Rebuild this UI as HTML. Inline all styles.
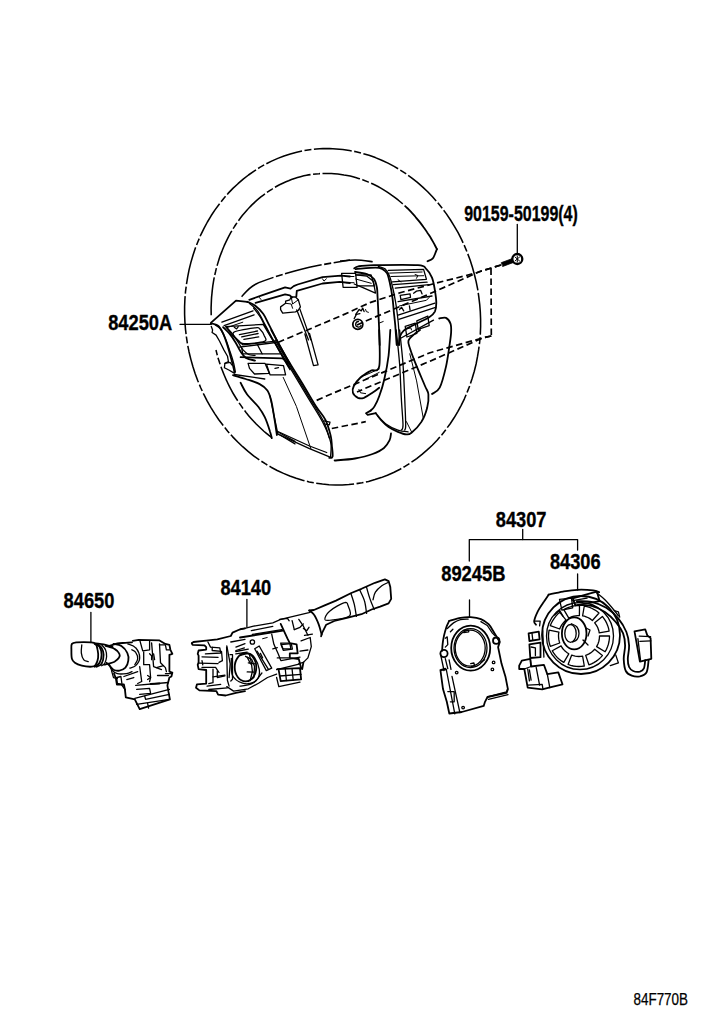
<!DOCTYPE html>
<html><head><meta charset="utf-8"><style>
html,body{margin:0;padding:0;background:#fff;width:707px;height:1024px;overflow:hidden}
svg{display:block}
.lb{font-family:"Liberation Sans",sans-serif;font-weight:bold;font-size:21.5px;fill:#000;stroke:#000;stroke-width:0.35}
.cd{font-family:"Liberation Sans",sans-serif;font-size:16px;fill:#000;stroke:#000;stroke-width:0.25}
path,line,polyline,circle,ellipse,rect{fill:none;stroke:#000;stroke-linecap:round;stroke-linejoin:round}
.ph{stroke-width:1.55;stroke-dasharray:38 2.5 7 2.5;stroke-linecap:butt}
.ds{stroke-width:1.7;stroke-dasharray:6.5 3.5;stroke-linecap:butt}
.t{stroke-width:1}
.m{stroke-width:1.3}
.k{stroke-width:1.8}
.f{fill:#000}
.w{fill:#fff}
</style></head><body>
<svg width="707" height="1024" viewBox="0 0 707 1024">
<path class="ph" d="M478.8,296.8 L479.7,304.3 L480.3,311.8 L480.6,319.4 L480.6,326.9 L480.3,334.4 L479.7,341.9 L478.7,349.4 L477.5,356.7 L476.1,364.0 L474.3,371.2 L472.2,378.3 L469.9,385.3 L467.2,392.1 L464.4,398.8 L461.2,405.3 L457.8,411.6 L454.1,417.8 L450.2,423.7 L446.0,429.4 L441.7,434.9 L437.1,440.2 L432.3,445.2 L427.2,449.9 L422.0,454.4 L416.7,458.6 L411.1,462.5 L405.4,466.2 L399.6,469.5 L393.6,472.5 L387.4,475.2 L381.2,477.6 L374.9,479.6 L368.5,481.4 L362.0,482.8 L355.5,483.8 L348.9,484.6 L342.3,485.0 L335.6,485.0 L329.0,484.7 L322.4,484.1 L315.8,483.1 L309.2,481.9 L302.6,480.2 L296.2,478.3 L289.8,476.0 L283.5,473.4 L277.2,470.5 L271.1,467.2 L265.2,463.7 L259.3,459.9 L253.6,455.8 L248.1,451.4 L242.7,446.7 L237.5,441.8 L232.5,436.6 L227.7,431.2 L223.2,425.5 L218.8,419.7 L214.7,413.6 L210.8,407.3 L207.1,400.9 L203.7,394.2 L200.6,387.5 L197.7,380.5 L195.1,373.5 L192.8,366.3 L190.8,359.1 L189.0,351.7 L187.5,344.3 L186.4,336.8 L185.5,329.3 L184.9,321.8 L184.6,314.2 L184.6,306.7 L184.9,299.2 L185.5,291.7 L186.5,284.2 L187.7,276.9 L189.1,269.6 L190.9,262.4 L193.0,255.3 L195.3,248.3 L198.0,241.5 L200.8,234.8 L204.0,228.3 L207.4,222.0 L211.1,215.8 L215.0,209.9 L219.2,204.2 L223.5,198.7 L228.1,193.4 L232.9,188.4 L238.0,183.7 L243.2,179.2 L248.5,175.0 L254.1,171.1 L259.8,167.4 L265.6,164.1 L271.6,161.1 L277.8,158.4 L284.0,156.0 L290.3,154.0 L296.7,152.2 L303.2,150.8 L309.7,149.8 L316.3,149.0 L322.9,148.6 L329.6,148.6 L336.2,148.9 L342.8,149.5 L349.4,150.5 L356.0,151.7 L362.6,153.4 L369.0,155.3 L375.4,157.6 L381.7,160.2 L388.0,163.1 L394.1,166.4 L400.0,169.9 L405.9,173.7 L411.6,177.8 L417.1,182.2 L422.5,186.9 L427.7,191.8 L432.7,197.0 L437.5,202.4 L442.0,208.1 L446.4,213.9 L450.5,220.0 L454.4,226.3 L458.1,232.7 L461.5,239.4 L464.6,246.1 L467.5,253.1 L470.1,260.1 L472.4,267.3 L474.4,274.5 L476.2,281.9 L477.7,289.3 L478.8,296.8Z"/>
<path class="ph" d="M211.2,315.2 C211.2,314.0 211.1,310.2 211.1,307.8 C211.2,305.3 211.3,302.9 211.4,300.4 C211.5,298.0 211.7,295.5 212.0,293.1 C212.2,290.6 212.5,288.2 212.8,285.8 C213.2,283.4 213.6,281.0 214.0,278.6 C214.5,276.2 215.0,273.9 215.6,271.5 C216.1,269.2 216.7,266.9 217.4,264.6 C218.1,262.3 218.8,260.0 219.5,257.7 C220.3,255.5 221.1,253.3 222.0,251.1 C222.8,248.9 223.8,246.7 224.7,244.6 C225.7,242.4 226.7,240.3 227.7,238.3 C228.8,236.2 229.9,234.2 231.0,232.2 C232.2,230.2 233.4,228.2 234.6,226.3 C235.9,224.4 237.1,222.5 238.5,220.7 C239.8,218.9 241.1,217.1 242.5,215.3 C243.9,213.6 245.4,211.9 246.9,210.2 C248.3,208.6 249.9,207.0 251.4,205.4 C253.0,203.9 254.6,202.4 256.2,200.9 C257.8,199.5 259.5,198.1 261.2,196.7 C262.9,195.4 264.6,194.1 266.3,192.8 C268.1,191.6 269.9,190.4 271.7,189.3 C273.5,188.1 275.3,187.1 277.2,186.0 C279.0,185.0 280.9,184.1 282.8,183.2 C284.7,182.3 286.7,181.4 288.6,180.7 C290.6,179.9 292.5,179.2 294.5,178.5 C296.5,177.9 298.5,177.3 300.5,176.7 C302.5,176.2 304.6,175.7 306.6,175.3 C308.6,174.9 310.7,174.6 312.8,174.3 C314.8,174.0 316.9,173.8 319.0,173.7 C321.0,173.5 323.1,173.4 325.2,173.4 C327.3,173.4 329.4,173.4 331.5,173.5 C333.6,173.6 335.7,173.8 337.8,174.0 C339.8,174.2 341.9,174.5 344.0,174.9 C346.1,175.2 348.2,175.6 350.2,176.1 C352.3,176.6 354.4,177.1 356.4,177.7 C358.5,178.4 360.5,179.0 362.6,179.7 C364.6,180.5 366.6,181.3 368.6,182.1 C370.6,183.0 372.6,183.9 374.5,184.8 C376.5,185.8 378.5,186.8 380.4,187.9 C382.3,189.0 384.2,190.1 386.1,191.3 C388.0,192.5 389.8,193.8 391.6,195.1 C393.5,196.4 395.3,197.7 397.1,199.2 C398.8,200.6 400.6,202.0 402.3,203.5 C404.0,205.1 406.5,207.5 407.4,208.2"/>
<path class="k" d="M407.4,208.2 C408.1,209.0 410.3,211.1 411.7,212.7 C413.1,214.2 414.5,215.7 415.8,217.3 C417.2,218.9 418.5,220.5 419.8,222.1 C421.1,223.8 422.4,225.5 423.6,227.2 C424.9,228.9 426.1,230.6 427.2,232.4 C428.4,234.2 429.5,236.0 430.7,237.8 C431.8,239.6 432.8,241.5 433.9,243.4 C434.9,245.3 436.4,248.1 436.9,249.1"/>
<path class="k" d="M436.9,249.1 C436.6,249.8 435.9,251.9 435.2,253.5 C434.5,255.1 433.9,257.3 432.6,258.6 C431.3,259.9 428.4,260.8 427.5,261.2"/>
<path class="ph" d="M271.4,437.3 C270.8,436.8 268.8,435.3 267.5,434.2 C266.2,433.1 264.9,432.1 263.6,431.0 C262.4,429.8 261.1,428.7 259.9,427.5 C258.7,426.4 257.4,425.2 256.2,424.0 C255.1,422.8 253.9,421.5 252.7,420.2 C251.6,419.0 250.4,417.7 249.3,416.4 C248.2,415.1 247.1,413.7 246.0,412.4 C244.9,411.0 243.9,409.6 242.8,408.2 C241.8,406.8 240.8,405.4 239.8,403.9 C238.8,402.5 237.8,401.0 236.9,399.5 C235.9,398.0 235.0,396.5 234.1,395.0 C233.2,393.5 232.3,391.9 231.5,390.3 C230.6,388.8 229.8,387.2 229.0,385.6 C228.2,384.0 227.4,382.4 226.7,380.8 C225.9,379.1 225.2,377.5 224.5,375.8 C223.8,374.2 223.1,372.5 222.5,370.8 C221.8,369.1 221.2,367.4 220.6,365.7 C220.0,364.0 219.4,362.3 218.9,360.5 C218.3,358.8 217.8,357.1 217.3,355.3 C216.9,353.5 216.2,350.9 216.0,350.0"/>
<path class="k" d="M334.6,460.5 C338.0,460.2 348.7,459.6 355.0,458.5 C361.3,457.4 367.8,455.8 372.6,454.0 C377.4,452.2 381.2,450.3 384.0,448.0 C386.8,445.7 388.3,442.8 389.5,440.4 C390.7,438.0 390.8,434.6 391.0,433.5"/>
<path class="ds" d="M331.8,428.5 L365.8,421.7"/>
<path class="k" d="M439.2,318.5 C440.3,318.4 444.1,317.0 446.0,317.9 C447.9,318.8 449.6,321.2 450.5,323.6 C451.4,326.1 451.3,328.8 451.1,332.6 C450.9,336.4 450.2,340.5 449.4,346.2 C448.5,351.9 447.6,359.7 446.0,366.6 C444.4,373.5 442.0,383.1 439.7,387.7 C437.4,392.3 433.3,392.9 432.0,394.0"/>
<path class="k" d="M240.6,382.8 C241.7,384.7 244.0,390.2 247.0,394.3 C250.0,398.3 255.5,403.2 258.5,407.0 C261.4,410.8 262.9,413.2 264.8,417.2 C266.7,421.2 268.8,427.7 269.9,431.2 C271.1,434.7 271.5,437.0 271.8,438.2"/>
<path class="k" d="M233.0,375.2 C235.1,375.8 241.3,377.5 245.7,379.0 C250.2,380.5 256.1,382.2 259.7,384.1 C263.3,386.0 265.5,387.7 267.4,390.5 C269.3,393.2 270.0,396.0 271.2,400.6 C272.4,405.3 273.4,412.7 274.4,418.5 C275.3,424.2 276.5,432.3 276.9,435.0"/>
<path class="m" d="M278.8,432.5 L295.0,441.4"/>
<path class="m" d="M280.1,435.0 L295.0,443.9"/>
<path class="m" d="M234.3,374.5 L264.8,379.0"/>
<path class="k" d="M211.1,322.7 L236.0,300.7 L247.3,301.8"/>
<path class="k" d="M247.3,301.8 C248.7,302.4 252.6,303.8 255.3,305.7 C257.9,307.7 260.9,310.6 263.2,313.7 C265.4,316.8 266.4,319.6 268.8,324.4 C271.3,329.2 274.4,335.9 277.9,342.5 C281.4,349.1 288.0,360.4 290.0,364.0"/>
<path class="m" d="M249.6,303.5 C250.9,304.7 255.1,307.5 257.5,310.8 C260.0,314.1 261.7,318.4 264.3,323.3 C267.0,328.2 270.2,334.4 273.4,340.3 C276.6,346.1 280.8,353.7 283.6,358.4 C286.3,363.1 288.9,366.9 290.0,368.6"/>
<path class="m" d="M253.6,308.0 C254.7,309.5 258.2,313.6 260.4,317.1 C262.5,320.6 264.1,324.5 266.6,328.9 C269.0,333.4 272.0,338.4 275.1,343.7 C278.1,348.9 282.2,356.3 284.7,360.6 C287.2,365.0 289.1,368.2 290.0,369.7"/>
<path class="m" d="M221.9,322.2 L253.0,310.8"/>
<path class="m" d="M224.1,325.6 L254.1,314.8"/>
<path class="t" d="M225.8,328.0 L242.8,322.2"/>
<path class="m" d="M225.8,326.7 L263.2,324.4 L273.4,341.4 L242.8,344.8 L232.6,335.7Z"/>
<path class="m" d="M233.8,332.3 C236.6,330.3 250.9,328.4 255.3,327.8 C259.6,327.2 258.3,327.6 259.8,328.9 C261.3,330.3 263.6,333.7 264.3,335.7 C265.1,337.8 267.7,340.1 264.3,341.4 C260.9,342.7 248.3,343.8 243.9,343.7 C239.6,343.5 240.0,342.1 238.3,340.3 C236.6,338.4 230.9,334.4 233.8,332.3Z"/>
<path class="m" d="M239.4,334.6 L257.5,331.0"/>
<path class="m" d="M241.7,336.9 L258.1,333.5"/>
<path class="m" d="M243.9,339.4 L258.7,336.9"/>
<path class="m" d="M234.3,327.2 L236.6,328.9 L238.3,326.7"/>
<path class="m" d="M239.4,347.1 L275.6,342.5"/>
<path class="m" d="M241.7,348.2 L242.8,353.8 L280.2,353.8"/>
<path class="k" d="M240.6,357.2 L282.4,358.4 L288.1,362.9"/>
<path class="m" d="M257.5,344.8 L262.1,353.8"/>
<path class="m" d="M248.1,363.4 L265.1,363.4 L269.3,373.3 L254.5,374.0 L249.5,368.4Z"/>
<path class="m" d="M266.5,364.1 L283.5,365.6 L285.6,374.8 L270.0,374.8Z"/>
<path class="m" d="M275.0,368.4 L278.5,367.7"/>
<path class="k" d="M210.8,323.3 C212.0,323.7 215.8,323.8 217.8,325.5 C219.9,327.2 221.5,330.0 223.1,333.4 C224.7,336.8 226.2,341.6 227.5,345.7 C228.8,349.8 230.0,354.2 231.0,358.0 C232.1,361.8 233.1,366.1 233.7,368.5 C234.3,371.0 234.4,372.2 234.5,372.9"/>
<path class="m" d="M215.2,325.0 C216.1,325.7 218.7,326.6 220.5,329.0 C222.2,331.4 224.1,335.7 225.8,339.5 C227.4,343.4 228.8,347.9 230.1,351.8 C231.5,355.8 232.8,359.9 233.7,363.3 C234.5,366.6 235.1,370.6 235.4,372.1"/>
<path class="m" d="M211.3,326.4 L212.6,329.9 L212.1,332.5 L216.1,335.1 L219.6,341.3 L224.0,350.1 L227.5,356.2 L228.4,361.5 L224.9,363.3 L224.4,367.7 L229.3,370.3 L233.7,372.9"/>
<path class="k" d="M223.1,327.2 C224.1,328.3 227.2,330.9 229.3,333.4 C231.3,335.9 233.5,339.1 235.4,342.2 C237.3,345.3 238.9,349.2 240.7,351.8 C242.5,354.5 243.6,356.5 246.0,358.0 C248.4,359.5 253.5,360.2 255.0,360.6"/>
<path class="m" d="M225.8,326.4 C226.9,327.7 230.7,331.6 232.8,334.3 C234.8,336.9 236.3,339.5 238.1,342.2 C239.8,344.8 241.6,348.0 243.3,350.1 C245.1,352.1 246.7,353.6 248.6,354.5 C250.6,355.4 253.9,355.2 255.0,355.4"/>
<path class="m" d="M224.9,363.3 L230.1,362.4 L231.9,365.0"/>
<path class="k" d="M271.3,330.0 C273.7,334.4 280.3,346.9 285.8,356.4 C291.3,365.8 299.2,378.3 304.3,386.7 C309.3,395.0 312.6,400.9 316.1,406.4 C319.6,411.9 322.9,414.8 325.3,419.6 C327.8,424.4 329.5,431.0 330.6,435.4 C331.7,439.8 331.6,442.4 331.9,446.0 C332.3,449.5 333.0,454.5 332.6,456.5 C332.2,458.5 329.8,457.6 329.3,457.8"/>
<path class="m" d="M274.0,340.5 C276.1,344.3 281.6,353.7 287.1,362.9 C292.6,372.2 301.0,386.0 306.9,395.9 C312.8,405.8 318.8,414.6 322.7,422.2 C326.7,429.9 329.3,436.3 330.6,442.0 C331.9,447.7 330.6,454.1 330.6,456.5"/>
<path class="m" d="M275.3,340.5 C277.5,344.3 283.0,353.7 288.4,362.9 C293.9,372.2 302.3,386.0 308.2,395.9 C314.1,405.8 320.5,415.2 324.0,422.2 C327.5,429.3 328.4,435.4 329.3,438.1"/>
<path class="m" d="M277.9,434.1 L309.5,448.6 L325.3,455.2 L331.9,457.8"/>
<path class="m" d="M277.9,431.5 L309.5,446.0 L326.7,452.5"/>
<path class="t" d="M283.2,377.4 L296.4,406.4 L310.8,448.6"/>
<path class="m" d="M270.0,395.9 L274.0,415.7 L277.9,434.1"/>
<path class="m" d="M324.0,420.9 L330.0,422.2 L329.3,424.9 L325.3,424.2"/>
<path class="ph" d="M241.6,296.7 C243.9,294.6 248.0,288.1 255.6,284.2 C263.1,280.3 276.3,276.5 286.7,273.3 C297.1,270.2 307.2,267.8 317.8,265.6 C328.4,263.4 344.6,261.0 350.0,260.1"/>
<path class="ph" d="M340.0,260.9 C342.6,260.8 350.1,260.0 355.6,260.1 C361.0,260.2 369.8,261.4 372.7,261.7"/>
<path class="k" d="M249.3,299.8 L261.8,295.4 L285.1,287.3 L290.6,288.6 L293.7,286.1 L297.6,284.5 L322.5,277.2 L341.1,275.7 L350.0,276.5"/>
<path class="k" d="M255.6,302.9 L285.1,294.3 L289.8,295.4 L292.1,297.5"/>
<path class="k" d="M296.3,296.7 L296.8,290.8 L322.5,283.5 L339.6,281.9 L350.0,283.0"/>
<path class="m" d="M280.6,306.9 L285.6,303.3 L285.6,301.2 L289.8,299.8 L291.2,297.0 L295.5,297.0 L298.3,299.8 L300.4,306.9 L298.3,310.4 L295.5,311.8 L282.7,313.2 L280.6,309.7Z"/>
<path class="t" d="M291.2,297.0 L292.6,304.0 L298.3,299.8"/>
<path class="t" d="M285.6,303.3 L291.2,304.0 L292.6,308.3"/>
<path class="m" d="M296.8,309.9 L308.5,339.9"/>
<path class="m" d="M299.9,309.1 L310.8,339.9"/>
<path class="t" d="M322.5,278.8 L324.0,281.1 L326.4,278.8"/>
<path class="t" d="M259.4,297.5 L261.0,299.5"/>
<path class="m" d="M304.9,334.0 L313.5,365.6 L318.1,364.9 L309.5,333.3"/>
<path class="m" d="M341.6,273.3 L355.6,273.3 L357.1,287.3 L343.1,287.3Z"/>
<path class="t" d="M346.2,276.5 L354.0,276.5"/>
<path class="t" d="M346.2,282.7 L354.0,282.7"/>
<path class="m" d="M355.6,274.9 L371.1,274.9 L374.2,285.8 L357.1,285.8"/>
<path class="k" d="M354.2,268.4 C355.0,268.1 355.2,266.9 358.5,266.3 C361.8,265.8 364.1,265.4 374.0,265.2 C383.9,265.0 409.2,264.5 417.9,265.2 C426.6,265.8 424.0,267.1 426.4,269.1 C428.7,271.2 430.6,274.1 432.0,277.6 C433.5,281.2 434.2,286.1 434.9,290.4 C435.6,294.6 436.3,299.6 436.3,303.1 C436.3,306.6 436.0,309.2 434.9,311.6 C433.7,313.9 433.0,314.9 429.2,317.2 C425.4,319.6 416.5,323.5 412.2,325.7 C408.0,328.0 405.8,328.8 403.7,330.7 C401.7,332.6 400.6,334.7 399.8,337.0 C399.0,339.4 399.0,343.6 398.8,345.0"/>
<path class="k" d="M355.7,269.1 C359.0,268.9 371.0,267.7 375.5,267.7 C379.9,267.7 380.6,268.2 382.5,269.1 C384.5,270.1 385.8,271.0 387.1,273.4 C388.3,275.7 389.0,279.3 389.9,283.3 C390.8,287.3 391.8,292.7 392.4,297.4 C393.1,302.1 393.4,306.9 393.8,311.6 C394.3,316.3 394.8,320.2 395.3,325.7 C395.7,331.3 396.4,341.8 396.7,345.0"/>
<path class="m" d="M378.3,266.3 C379.5,266.8 383.5,267.5 385.4,269.1 C387.2,270.8 388.4,273.2 389.6,276.2 C390.8,279.3 391.7,283.3 392.7,287.5 C393.7,291.8 394.7,297.0 395.5,301.7 C396.3,306.4 397.0,311.1 397.5,315.8 C398.1,320.5 398.5,325.1 398.8,330.0 C399.1,334.8 399.4,342.5 399.5,345.0"/>
<path class="k" d="M355.0,272.0 C357.0,272.3 363.8,272.9 367.0,274.1 C370.2,275.3 372.4,276.8 374.0,279.0 C375.7,281.3 376.3,284.5 376.9,287.5 C377.5,290.6 377.3,293.4 377.6,297.4 C377.8,301.4 378.1,306.9 378.3,311.6 C378.5,316.3 378.8,320.2 379.0,325.7 C379.2,331.3 379.6,341.8 379.7,345.0"/>
<path class="m" d="M355.7,274.8 L367.0,276.2 L373.3,281.2 L375.5,293.2 L364.1,288.2 L354.2,284.0"/>
<path class="t" d="M355.7,279.0 L371.2,283.3"/>
<path class="m" d="M388.2,270.3 L423.6,269.4 L426.4,279.3 L392.4,281.9"/>
<path class="t" d="M389.6,273.1 L422.1,272.0"/>
<path class="t" d="M391.0,276.5 L423.6,275.7"/>
<path class="t" d="M415.1,274.5 L417.9,275.5 L416.5,278.3"/>
<path class="t" d="M398.1,279.8 L400.9,281.9"/>
<path class="m" d="M393.1,284.7 L427.1,282.2"/>
<path class="m" d="M395.3,288.2 L429.2,284.7"/>
<path class="m" d="M400.2,295.3 L410.1,293.9 L410.5,297.4 L400.9,299.6Z"/>
<path class="m" d="M413.6,293.2 L416.5,291.1 L420.7,290.4 L422.1,293.9"/>
<path class="m" d="M398.1,301.7 L432.0,296.0"/>
<path class="t" d="M399.5,305.9 L426.4,300.3 L429.2,297.4"/>
<path class="m" d="M399.5,309.5 L401.6,307.3 L403.7,310.9"/>
<path class="m" d="M409.4,305.9 L410.1,310.2"/>
<path class="m" d="M398.1,315.1 L434.9,303.1"/>
<path class="m" d="M398.8,319.4 L435.6,307.3"/>
<path class="m" d="M405.2,326.4 L415.3,323.2 L416.8,333.5 L406.9,337.0Z"/>
<path class="m" d="M416.8,320.8 L427.8,316.1 L429.2,325.7 L418.2,329.3Z"/>
<path class="t" d="M408.0,328.6 L410.8,327.8 L411.5,330.0"/>
<path class="m" d="M400.2,338.5 L433.5,320.1"/>
<circle class="k" cx="357.8" cy="324.3" r="5"/>
<path class="m" d="M358.5,321.5 a2.8,2.8 0 1 0 2.5,4"/>
<path class="m" d="M355.7,314.4 L359.2,309.5 L361.3,310.9 L362.7,308.0 L364.1,311.6"/>
<path class="t" d="M365.6,309.5 L366.3,311.6 L368.4,312.3"/>
<path class="m" d="M354.2,318.6 L356.4,314.4 L359.9,313.7"/>
<path class="t" d="M379.7,322.9 L383.2,321.5"/>
<path class="t" d="M363.9,375.8 L379.2,369.0"/>
<path class="t" d="M365.6,379.2 L379.2,372.4"/>
<path class="k" d="M379.2,330.0 C379.2,336.1 380.6,359.7 379.2,366.5 C377.8,373.3 373.8,368.9 370.7,370.7 C367.6,372.6 363.4,375.0 360.5,377.5 C357.7,380.1 355.0,383.5 353.8,386.0 C352.5,388.6 352.2,390.8 352.9,392.8 C353.6,394.8 356.2,397.0 358.0,397.9 C359.8,398.7 361.5,398.7 363.9,397.9 C366.3,397.0 369.9,394.5 372.4,392.8 C375.0,391.1 378.1,388.6 379.2,387.7"/>
<path class="k" d="M390.3,330.0 C390.0,334.2 389.5,347.3 388.6,355.5 C387.6,363.7 385.9,372.4 384.3,379.2 C382.8,386.0 380.9,391.7 379.2,396.2 C377.6,400.7 375.9,404.0 374.5,406.4 C373.1,408.8 371.4,409.9 370.7,410.6"/>
<path class="k" d="M370.7,410.6 L366.0,413.2 L367.7,414.9 L375.8,413.2"/>
<path class="k" d="M375.8,413.2 C376.7,414.3 378.8,417.6 380.9,420.0 C383.0,422.3 385.7,425.1 388.6,427.1 C391.4,429.1 394.9,430.6 397.9,431.8 C400.9,433.0 404.1,434.2 406.4,434.4 C408.6,434.5 408.9,434.8 411.5,432.7 C414.0,430.6 419.0,425.8 421.6,421.6 C424.3,417.5 425.9,412.6 427.1,408.1 C428.2,403.5 428.8,398.2 428.4,394.5 C428.1,390.8 427.2,391.1 425.0,386.0 C422.9,380.9 418.2,370.2 415.7,363.9 C413.2,357.7 411.3,352.5 410.1,348.7 C408.9,344.9 407.9,343.3 408.4,341.0 C408.9,338.8 411.2,336.9 413.2,335.1 C415.1,333.3 418.8,330.8 420.0,330.0"/>
<path class="m" d="M377.5,415.7 C379.0,417.1 383.0,421.8 386.3,424.2 C389.7,426.6 394.3,428.9 397.9,430.1 C401.5,431.4 406.4,431.6 408.1,431.8"/>
<path class="m" d="M396.2,330.0 C396.8,335.7 398.7,352.6 399.6,363.9 C400.4,375.3 400.7,387.7 401.3,397.9 C401.8,408.1 403.0,419.7 403.0,425.0 C403.0,430.4 401.6,429.3 401.3,430.1"/>
<path class="m" d="M399.6,330.0 C400.2,335.7 402.1,352.6 403.0,363.9 C403.8,375.3 404.2,387.7 404.7,397.9 C405.1,408.1 405.7,419.7 405.7,425.0 C405.7,430.4 404.8,429.3 404.7,430.1"/>
<path class="t" d="M409.8,353.8 L416.6,380.9 L423.3,418.3"/>
<path class="t" d="M406.4,421.6 L411.5,431.8"/>
<path class="t" d="M358.9,389.4 L360.5,392.8 L365.6,393.6"/>
<path class="ds" d="M501.0,265.0 L480.0,271.5 L476.5,272.8 L430.0,284.7 L400.0,292.8 L370.0,302.6 L341.7,315.5 L278.5,342.2"/>
<path class="ds" d="M501.0,265.0 L480.0,271.5 L430.0,293.6 L400.0,306.5 L362.9,322.3 L357.0,325.0"/>
<path class="ds" d="M491.0,268.5 L491.3,336.0"/>
<path class="ds" d="M491.3,336.0 L483.4,337.7 L430.0,352.7 L330.0,394.5 L314.8,401.2"/>
<path class="ds" d="M491.3,336.0 L483.4,337.7 L430.0,361.2 L362.5,389.5 L357.0,392.0"/>
<circle cx="517.3" cy="259" r="5" style="stroke:#000;stroke-width:2.3;fill:#fff"/>
<path class="t" d="M515.0,257.0 L519.6,261.0"/>
<path class="t" d="M515.0,261.0 L519.6,257.0"/>
<path class="t" d="M517.3,256.0 L517.3,262.0"/>
<path d="M501.5,262.6 L512.2,258.6 L513.6,262.4 L502.9,266.4 Z" style="fill:#000;stroke:#000;stroke-width:0.8"/>
<path class="m" d="M517.3,224.5 L517.3,254.0"/>
<path class="m" d="M180.0,324.3 L211.3,324.3"/>
<path class="m" d="M90.9,612.5 L90.9,642.5"/>
<path class="k" d="M71.9,643.9 C72.8,642.7 73.7,642.7 76.9,642.4 C80.0,642.2 87.6,642.2 90.7,642.4 C93.8,642.7 94.5,642.7 95.7,643.9 C96.8,645.1 97.2,647.5 97.6,649.9 C98.1,652.2 98.5,655.3 98.1,657.8 C97.8,660.2 96.7,663.2 95.7,664.7 C94.6,666.2 94.0,666.5 91.7,666.7 C89.4,666.8 84.6,666.4 81.8,665.7 C79.0,665.0 76.5,663.9 74.9,662.7 C73.2,661.6 72.5,660.9 71.9,658.8 C71.3,656.6 71.4,652.3 71.4,649.9 C71.4,647.4 71.0,645.1 71.9,643.9Z"/>
<path class="m" d="M81.8,644.9 C81.7,646.2 81.0,650.3 81.3,652.8 C81.6,655.3 82.6,658.3 83.8,659.8 C84.9,661.2 87.5,661.4 88.2,661.7"/>
<path class="k" d="M94.7,643.9 C95.5,644.4 98.5,645.1 99.6,646.9 C100.8,648.7 101.6,652.2 101.6,654.8 C101.6,657.4 100.8,660.7 99.6,662.7 C98.5,664.7 95.5,666.0 94.7,666.7"/>
<path class="k" d="M97.1,643.9 C97.9,644.6 100.5,646.1 101.6,647.9 C102.7,649.7 103.6,652.2 103.6,654.8 C103.6,657.4 102.8,661.7 101.6,663.7 C100.4,665.7 97.5,666.2 96.7,666.7"/>
<path class="m" d="M101.6,644.9 C102.3,645.7 104.7,647.9 105.6,649.9 C106.4,651.8 106.7,654.5 106.6,656.8 C106.4,659.1 105.4,662.2 104.6,663.7 C103.7,665.2 102.1,665.4 101.6,665.7"/>
<path class="k" d="M95.7,643.4 C97.0,643.6 101.3,644.0 103.6,644.4 C105.9,644.8 108.0,645.5 109.5,645.9 C111.0,646.3 112.0,646.7 112.5,646.9"/>
<path class="k" d="M105.6,645.9 C107.0,646.4 112.2,647.5 114.5,648.9 C116.8,650.2 118.7,652.3 119.4,653.8 C120.2,655.3 119.8,656.5 118.9,657.8 C118.1,659.1 116.2,660.7 114.5,661.7 C112.7,662.7 110.2,663.2 108.5,663.7 C106.9,664.2 105.2,664.5 104.6,664.7"/>
<path class="k" d="M109.5,645.9 C110.8,645.5 114.8,643.9 117.4,643.4 C120.1,642.9 122.9,643.1 125.4,642.9 C127.8,642.8 130.9,642.5 132.0,642.4"/>
<path class="k" d="M113.5,643.9 C114.8,644.2 119.1,644.4 121.4,645.9 C123.7,647.4 126.2,650.3 127.3,652.8 C128.5,655.3 128.7,658.3 128.3,660.7 C128.0,663.2 126.9,666.0 125.4,667.7 C123.9,669.3 121.4,670.3 119.4,670.6 C117.4,671.0 115.1,670.5 113.5,669.7 C111.8,668.8 110.7,666.8 109.5,665.7 C108.4,664.5 107.0,663.2 106.6,662.7"/>
<path class="m" d="M109.5,664.7 C109.9,665.5 110.2,668.2 111.5,669.7 C112.8,671.1 115.0,673.0 117.4,673.6 C119.9,674.3 123.9,673.9 126.4,673.6 C128.8,673.3 131.1,672.0 132.0,671.6"/>
<path class="m" d="M111.5,670.6 L113.5,677.6 L117.4,678.6"/>
<path class="m" d="M116.5,677.6 L117.4,683.5 L121.4,684.5 L125.4,690.0"/>
<path class="m" d="M127.8,643.9 C129.1,644.5 133.8,645.5 135.7,647.8 C137.7,650.1 139.7,654.8 139.7,657.7 C139.7,660.7 137.4,663.9 135.7,665.6 C134.1,667.4 130.8,667.7 129.8,668.1"/>
<path class="m" d="M131.8,649.8 C132.4,650.2 134.8,650.8 135.7,652.3 C136.7,653.8 137.9,656.7 137.7,658.7 C137.6,660.8 135.2,663.7 134.8,664.7"/>
<path class="k" d="M132.8,640.9 L138.7,639.9 L159.5,640.4 L165.4,643.9 L169.4,644.9 L170.4,649.8 L172.4,653.8 L169.4,654.8 L169.4,671.6 L172.4,672.6 L171.4,676.5 L169.4,677.5 L167.4,685.4 L168.4,691.4 L169.9,699.3 L139.7,709.2 L134.8,699.3 L125.8,697.3 L124.9,689.4 L123.9,684.5 L116.9,684.5 L115.9,678.5 L114.0,673.6"/>
<path class="m" d="M139.7,639.9 L142.7,650.8 L149.6,649.8 L149.6,640.9"/>
<path class="m" d="M143.7,651.8 L143.7,664.7 L149.6,664.7 L150.6,677.5 L147.6,679.5"/>
<path class="m" d="M151.6,642.9 L153.6,666.6 L161.5,669.6"/>
<path class="m" d="M159.5,643.9 L160.5,662.7 L165.4,667.6 L166.4,671.6"/>
<path class="m" d="M159.5,644.9 L165.4,644.9 L166.4,649.8 L169.4,649.8"/>
<path class="m" d="M149.6,653.8 L151.6,655.7 L151.6,659.7"/>
<path class="m" d="M153.6,653.8 L154.6,659.7"/>
<path class="m" d="M156.5,667.6 L163.5,665.6"/>
<path class="m" d="M157.5,675.5 L168.4,675.5"/>
<path class="m" d="M147.6,675.5 L150.6,677.5 L149.6,681.5"/>
<path class="m" d="M139.7,666.6 L141.7,681.5 L137.7,683.5"/>
<path class="m" d="M135.7,685.4 L168.4,682.5"/>
<path class="k" d="M150.6,684.0 L159.5,683.5"/>
<path class="m" d="M136.7,689.4 L149.6,688.4 L150.6,693.4 L139.7,694.4"/>
<path class="m" d="M134.8,698.3 L169.4,689.4"/>
<path class="m" d="M144.7,696.3 L145.6,699.3 L169.4,694.4"/>
<path class="m" d="M136.7,704.3 L169.4,699.3"/>
<path class="m" d="M147.6,703.3 L148.6,708.2"/>
<path class="m" d="M116.9,677.5 L120.9,676.5 L121.9,683.5"/>
<path class="m" d="M123.9,676.5 L137.7,671.6"/>
<path class="m" d="M126.8,679.5 L133.8,677.5"/>
<path class="m" d="M165.4,673.6 L171.4,673.6"/>
<path class="m" d="M246.9,599.5 L246.9,627.0"/>
<path class="k" d="M309.2,610.5 L313.9,610.0 L324.1,605.7 L336.0,600.6 L351.3,593.0 L361.5,588.8 L375.0,582.8 L384.9,579.4 L388.6,581.1 L390.3,587.1 L391.2,598.9 L388.6,603.4 L380.1,606.6 L371.6,609.5 L361.5,614.2 L347.9,617.6 L334.3,621.0 L326.2,624.7 L322.1,632.9 L321.1,636.3"/>
<path class="k" d="M309.2,610.5 C310.0,611.2 312.4,612.2 313.9,614.6 C315.5,616.9 317.4,621.1 318.7,624.4 C320.0,627.7 321.1,632.9 321.6,634.6"/>
<path class="m" d="M350.9,593.5 C351.5,595.3 353.4,600.6 354.3,604.4 C355.2,608.2 356.0,614.3 356.4,616.3"/>
<path class="m" d="M359.8,590.1 C360.6,591.9 363.4,597.1 364.5,601.0 C365.7,604.9 366.2,611.3 366.6,613.4"/>
<path class="m" d="M366.6,587.4 C367.1,589.3 368.7,595.3 370.0,598.9 C371.2,602.6 373.5,607.7 374.2,609.5"/>
<path class="m" d="M325.0,619.7 C324.2,618.2 326.3,614.0 329.6,611.2 C332.8,608.3 341.4,603.5 344.5,602.7 C347.6,601.8 347.4,603.9 348.2,606.1 C349.1,608.3 351.9,613.7 349.6,615.9 C347.3,618.2 338.4,619.0 334.3,619.7 C330.2,620.3 325.8,621.1 325.0,619.7Z"/>
<path class="m" d="M373.0,599.8 C373.4,598.5 373.9,594.5 375.4,592.2 C376.9,589.8 379.6,587.3 381.8,585.7 C384.0,584.1 387.5,582.9 388.6,582.3"/>
<path class="k" d="M191.8,643.3 L193.5,642.0 L206.2,640.7 L217.3,639.4 L230.8,636.0 L232.5,632.6 L240.2,629.2 L245.0,628.4"/>
<path class="k" d="M191.8,643.3 L192.6,644.9 L204.5,645.4 L206.2,647.1 L206.2,649.6 L198.6,650.5 L197.7,653.9 L198.6,655.6 L198.6,662.4 L197.7,664.9 L198.6,669.1 L206.2,670.0 L206.2,683.6 L196.9,684.4 L196.0,687.8 L199.4,690.4 L216.4,691.2 L218.1,694.6 L225.7,695.5 L235.9,692.9 L245.0,691.2"/>
<path class="m" d="M207.9,642.0 L210.5,647.1 L219.8,647.9 L220.7,653.0 L205.4,653.9"/>
<path class="m" d="M202.0,656.8 L218.1,657.3"/>
<path class="m" d="M212.2,647.1 L212.2,650.5 L221.5,651.3 L222.4,660.7 L219.0,662.4"/>
<path class="m" d="M199.4,663.2 L218.1,663.6"/>
<path class="m" d="M202.0,667.4 L215.6,667.4 L219.0,672.5"/>
<path class="m" d="M213.0,669.1 L213.0,682.7 L208.8,683.6"/>
<path class="m" d="M217.3,670.8 L217.3,677.6 L224.9,675.9"/>
<path class="m" d="M213.0,676.8 L224.9,675.1"/>
<path class="m" d="M226.6,647.1 L227.4,680.2 L229.1,686.1"/>
<path class="m" d="M230.0,654.7 L232.5,654.7 L232.5,679.3 L230.8,681.0"/>
<path class="m" d="M207.1,686.1 L220.7,684.4"/>
<path class="m" d="M208.8,689.5 L227.4,687.8"/>
<path class="m" d="M230.8,642.0 L245.0,639.4"/>
<path class="m" d="M235.9,647.1 L245.0,643.7"/>
<path class="m" d="M235.9,650.5 L244.4,647.9"/>
<path class="m" d="M202.0,660.7 L202.8,664.9"/>
<path class="m" d="M240.0,629.6 L253.6,626.2 L272.8,622.8 L280.7,619.4 L309.0,612.6 L312.4,610.4"/>
<path class="m" d="M251.3,630.7 L272.8,626.4"/>
<path class="m" d="M252.4,634.4 L281.9,629.6"/>
<path class="k" d="M240.0,637.5 L283.0,630.7"/>
<path class="m" d="M279.6,619.4 L287.5,618.3 L289.2,620.8"/>
<path class="k" d="M280.7,623.9 L287.5,638.7 L289.8,643.2 L296.6,644.3 L297.7,653.4 L289.8,653.4 L289.8,657.9 L298.8,659.0 L301.1,668.1"/>
<path class="m" d="M271.7,634.1 L273.9,644.3 L278.5,654.5 L280.7,660.2"/>
<path class="m" d="M280.7,643.2 L289.8,643.2 L290.9,648.8 L283.0,648.8Z"/>
<path class="m" d="M277.3,657.9 L288.7,657.9"/>
<path class="k" d="M277.3,669.2 L300.0,668.1 L301.1,679.4 L280.7,681.1 L278.5,669.2"/>
<path class="m" d="M279.6,676.0 L301.1,674.3"/>
<path class="m" d="M285.3,669.2 L286.4,680.5"/>
<path class="m" d="M292.1,669.2 L293.2,680.0"/>
<path class="m" d="M254.7,648.8 L259.2,646.0 L271.7,668.1 L266.3,670.6Z"/>
<path class="m" d="M257.0,651.1 L268.3,669.2"/>
<path class="m" d="M292.1,620.6 L294.3,629.6"/>
<path class="m" d="M298.8,619.4 L303.4,626.2 L307.9,635.3"/>
<path class="m" d="M301.1,640.9 L310.2,637.5 L311.3,646.6 L307.9,657.9 L303.4,662.4 L298.8,663.6"/>
<path class="m" d="M294.3,629.6 L300.0,627.3 L303.4,623.9"/>
<path class="m" d="M303.4,628.5 L306.8,630.7 L309.0,627.3"/>
<path class="m" d="M304.5,635.3 L312.4,634.1"/>
<path class="m" d="M300.0,651.1 L307.9,650.0"/>
<path class="k" d="M303.4,662.4 L302.2,669.2 L301.1,668.1"/>
<circle class="m" cx="252.4" cy="642" r="2.2"/>
<path class="m" d="M240.0,655.6 C241.5,655.3 246.6,653.0 249.1,653.4 C251.5,653.7 253.0,655.3 254.7,657.9 C256.4,660.5 258.7,665.8 259.2,669.2 C259.8,672.6 259.4,675.8 258.1,678.3 C256.8,680.7 254.3,682.6 251.3,683.9 C248.3,685.2 241.9,685.8 240.0,686.2"/>
<path class="m" d="M249.1,653.4 L251.3,662.4 L252.4,671.5 L250.2,680.5"/>
<path class="m" d="M260.4,653.4 L262.6,657.9"/>
<path class="t" d="M262.6,638.7 L267.2,637.5"/>
<path class="m" d="M272.8,648.8 L277.3,647.7"/>
<ellipse class="k" cx="245.5" cy="667.3" rx="10.8" ry="14.1"/>
<path class="m" d="M245.5,656.3 L251.7,659.4 L254.5,666.2 L253.9,677.5 L248.3,681.5"/>
<path class="m" d="M247.2,657.2 L250.6,663.9"/>
<path class="m" d="M248.3,662.8 L255.1,663.9"/>
<path class="m" d="M247.2,671.9 L253.9,672.1"/>
<path class="m" d="M231.3,658.3 C231.5,661.1 230.6,671.1 232.4,675.3 C234.3,679.4 239.0,682.1 242.6,683.2 C246.2,684.3 250.7,683.7 253.9,682.1 C257.2,680.4 260.5,674.5 261.9,673.0"/>
<path class="m" d="M226.8,686.6 L233.6,691.1 L248.3,688.8 L258.5,683.2 L267.5,677.5 L276.6,674.1"/>
<path class="m" d="M281.1,660.6 L300.0,657.2"/>
<path class="m" d="M281.1,644.7 L291.3,643.6 L292.4,649.2 L283.4,650.4Z"/>
<path class="m" d="M276.6,677.5 L278.8,686.6 L300.0,682.1"/>
<path class="m" d="M276.6,669.6 L300.0,663.9"/>
<path class="m" d="M226.8,645.8 L230.2,663.9 L229.1,677.5"/>
<path class="m" d="M235.8,651.5 L248.3,649.2"/>
<path class="m" d="M235.8,653.8 L247.2,652.1"/>
<path class="m" d="M469.5,600.0 L469.5,617.2"/>
<path class="k" d="M449.1,621.0 C451.0,620.5 456.9,618.5 460.5,617.8 C464.2,617.2 467.3,617.0 470.7,617.2 C474.1,617.4 477.9,617.9 480.9,619.1 C483.9,620.3 486.4,622.1 488.6,624.2 C490.7,626.3 492.2,629.5 493.6,631.8 C495.1,634.2 496.8,637.1 497.5,638.2"/>
<path class="k" d="M497.5,638.2 L499.8,642.0 L498.1,647.1 L501.5,663.6 L505.4,676.4 L507.9,689.1 L506.6,692.9 L487.5,697.0 L485.0,701.8 L483.7,705.9 L461.8,712.0 L449.3,713.5 L446.8,701.8 L443.0,689.1 L440.4,670.0 L445.3,668.7"/>
<path class="k" d="M449.1,621.0 C448.7,622.0 447.4,624.3 446.5,626.7 C445.7,629.2 444.6,632.9 444.0,635.6 C443.4,638.4 443.0,640.7 442.7,643.3 C442.4,645.8 442.2,649.6 442.1,650.9"/>
<ellipse class="k" cx="470.7" cy="648.1" rx="19.5" ry="22.5"/>
<ellipse class="m" cx="470.5" cy="648.1" rx="16.5" ry="19.5"/>
<ellipse class="m" cx="470.2" cy="648.1" rx="15" ry="18"/>
<circle class="k" cx="444.0" cy="653.5" r="3.6"/>
<circle class="k" cx="496.2" cy="640.7" r="3.2"/>
<circle class="m" cx="493.6" cy="662.4" r="1.3"/>
<circle class="m" cx="492.4" cy="669.4" r="1.3"/>
<circle class="m" cx="456.7" cy="672.6" r="1.3"/>
<circle class="m" cx="463.1" cy="707.6" r="1.3"/>
<path class="m" d="M440.7,670.3 L446.3,669.5"/>
<path class="m" d="M452.0,676.4 L459.9,712.7"/>
<path class="m" d="M446.3,669.5 L454.8,713.8"/>
<path class="m" d="M488.5,699.3 L508.0,694.7"/>
<path class="m" d="M440.5,654.0 L444.0,670.5"/>
<path class="m" d="M447.8,691.6 L454.2,691.6 L454.2,701.8 L450.4,701.8"/>
<path class="m" d="M487.5,697.0 L506.4,691.9 L507.6,689.1"/>
<path class="m" d="M445.3,658.6 L447.8,668.7"/>
<path class="m" d="M449.1,659.8 L451.0,669.4"/>
<path class="m" d="M447.2,628.6 C448.2,627.7 451.3,624.4 453.5,622.9 C455.8,621.4 458.1,620.4 460.5,619.7 C463.0,619.1 466.9,619.2 468.2,619.1"/>
<path class="m" d="M480.9,621.6 L487.3,625.5 L492.4,633.1 L494.9,635.6"/>
<path class="m" d="M445.3,638.2 L447.2,636.9 L447.8,644.6 L445.3,647.1"/>
<path class="m" d="M463.1,630.5 L468.2,629.9 L468.8,631.8 L463.7,632.5"/>
<path class="m" d="M470.7,663.6 L473.9,663.0 L474.6,666.2 L471.4,666.4"/>
<path class="m" d="M480.9,662.4 L484.7,659.8"/>
<path class="m" d="M450.4,631.8 L452.9,629.3"/>
<path class="m" d="M577.6,574.0 L577.6,590.0"/>
<circle class="k" cx="581" cy="635" r="39"/>
<circle class="m" cx="580" cy="636" r="33.5"/>
<ellipse class="k" cx="574.2" cy="633.4" rx="12.3" ry="16"/>
<ellipse class="m" cx="570.5" cy="633.4" rx="5.7" ry="8.9"/>
<path class="m" d="M571.5,623.8 C572.4,624.3 575.8,625.4 577.0,627.0 C578.2,628.6 579.0,631.4 579.0,633.5 C579.0,635.6 578.1,638.1 577.0,639.5 C575.9,640.9 573.2,641.6 572.5,642.0"/>
<path class="m" d="M550.3,625.6 L551.4,623.0 L552.7,620.6 L554.2,618.3 L555.9,616.1 L557.7,614.1 L559.8,612.3 L566.1,620.1 L564.7,621.3 L563.5,622.6 L562.3,624.1 L561.3,625.6 L560.4,627.3 L559.7,629.0Z"/>
<path class="m" d="M563.8,609.6 L566.2,608.3 L568.7,607.3 L571.4,606.5 L574.1,605.9 L576.8,605.6 L579.5,605.5 L579.4,615.5 L577.5,615.6 L575.7,615.8 L573.9,616.2 L572.1,616.7 L570.4,617.4 L568.8,618.2Z"/>
<path class="m" d="M584.3,606.0 L587.0,606.6 L589.6,607.4 L592.1,608.5 L594.6,609.8 L596.9,611.3 L599.0,613.0 L592.4,620.5 L591.0,619.4 L589.5,618.4 L587.8,617.5 L586.1,616.8 L584.4,616.2 L582.6,615.8Z"/>
<path class="m" d="M602.4,616.4 L604.0,618.6 L605.5,620.9 L606.8,623.4 L607.8,625.9 L608.6,628.5 L609.1,631.2 L599.2,632.8 L598.9,631.0 L598.3,629.2 L597.7,627.5 L596.8,625.9 L595.8,624.3 L594.7,622.8Z"/>
<path class="m" d="M609.5,636.0 L609.4,638.7 L609.0,641.5 L608.4,644.2 L607.5,646.8 L606.5,649.3 L605.1,651.7 L596.6,646.6 L597.5,644.9 L598.2,643.2 L598.8,641.5 L599.2,639.7 L599.4,637.8 L599.5,636.0Z"/>
<path class="m" d="M602.4,655.6 L600.5,657.6 L598.5,659.5 L596.3,661.1 L593.9,662.6 L591.5,663.8 L588.9,664.8 L585.7,655.4 L587.4,654.7 L589.0,653.9 L590.6,652.9 L592.1,651.8 L593.5,650.5 L594.7,649.2Z"/>
<path class="m" d="M584.3,666.0 L581.6,666.4 L578.8,666.5 L576.1,666.4 L573.4,666.0 L570.7,665.3 L568.1,664.5 L571.7,655.1 L573.4,655.7 L575.2,656.1 L577.0,656.4 L578.9,656.5 L580.7,656.4 L582.6,656.2Z"/>
<path class="m" d="M563.8,662.4 L561.4,660.9 L559.3,659.2 L557.2,657.4 L555.4,655.3 L553.8,653.1 L552.3,650.8 L561.1,645.9 L562.0,647.5 L563.1,649.0 L564.4,650.4 L565.7,651.6 L567.2,652.8 L568.8,653.8Z"/>
<path class="m" d="M550.3,646.4 L549.5,643.8 L548.9,641.1 L548.6,638.4 L548.5,635.6 L548.7,632.9 L549.1,630.2 L558.9,632.1 L558.6,633.9 L558.5,635.8 L558.6,637.6 L558.8,639.4 L559.2,641.2 L559.7,643.0Z"/>
<path class="m" d="M586.0,628.0 L590.0,630.0 L588.0,636.0"/>
<path class="m" d="M583.0,640.0 L588.0,645.0"/>
<path class="k" d="M576.7,601.1 C579.2,601.2 586.6,600.7 591.5,601.8 C596.4,602.9 601.8,605.0 606.3,607.8 C610.8,610.6 615.0,614.6 618.4,618.6 C621.7,622.6 624.6,627.6 626.4,632.0 C628.2,636.5 628.9,641.0 629.1,645.5 C629.3,649.9 627.8,655.3 627.8,658.9 C627.8,662.5 628.2,665.0 629.1,667.0 C630.0,669.0 631.4,670.2 633.2,671.0 C634.9,671.8 638.1,672.1 639.9,671.7 C641.7,671.2 643.0,670.2 643.9,668.3 C644.8,666.4 645.0,661.6 645.2,660.2"/>
<path class="k" d="M578.1,605.2 C580.3,605.3 587.0,604.7 591.5,605.8 C596.0,606.9 600.9,609.2 604.9,611.9 C609.0,614.6 612.7,618.4 615.7,622.0 C618.7,625.5 621.5,629.5 623.1,633.4 C624.6,637.3 625.0,641.2 625.1,645.5 C625.2,649.7 623.6,654.6 623.7,658.9 C623.9,663.2 624.4,668.2 625.8,671.0 C627.1,673.8 629.5,674.8 631.8,675.7 C634.2,676.6 637.4,676.9 639.9,676.4 C642.3,675.8 645.1,675.0 646.6,672.3 C648.0,669.7 648.3,662.3 648.6,660.2"/>
<path class="k" d="M634.5,631.4 L645.2,629.3 L647.3,635.4 L650.6,638.1 L651.3,658.9 L639.9,661.6Z"/>
<path class="m" d="M639.2,636.1 L650.6,636.7"/>
<path class="m" d="M639.9,641.4 L650.9,640.8"/>
<path class="m" d="M637.9,638.7 L640.5,660.2"/>
<path class="k" d="M572.7,598.4 L590.2,593.3 L596.9,591.7 L599.6,601.1 L575.4,605.4Z"/>
<path class="m" d="M596.9,593.1 C598.2,594.2 602.0,596.9 604.9,599.8 C607.8,602.7 612.1,607.8 614.3,610.5 C616.6,613.2 617.7,615.0 618.4,615.9"/>
<path class="m" d="M614.3,610.5 L618.4,611.9 L619.7,617.2"/>
<path class="m" d="M615.7,654.9 L618.4,662.9 L610.3,665.6"/>
<path class="k" d="M548.7,594.6 C551.1,594.1 558.3,592.4 563.1,591.6 C567.9,590.8 572.5,590.0 577.5,589.8 C582.5,589.6 589.5,590.0 593.1,590.4 C596.8,590.8 598.2,591.9 599.2,592.2"/>
<path class="k" d="M548.7,594.6 C547.9,595.8 545.7,599.0 543.9,601.8 C542.0,604.6 539.4,608.2 537.8,611.4 C536.2,614.7 534.5,618.9 534.2,621.1 C533.9,623.3 535.7,624.1 536.0,624.7"/>
<path class="m" d="M534.2,621.1 L540.2,621.1 L539.6,625.9"/>
<path class="k" d="M528.6,633.4 L538.8,631.7 L539.6,639.3 L529.4,641.0Z"/>
<path class="k" d="M529.4,644.4 L540.5,642.7 L540.5,657.2 L530.3,658.0Z"/>
<path class="m" d="M531.1,647.0 L535.4,647.8 L535.4,655.5"/>
<path class="k" d="M519.2,665.7 L521.8,660.6 L530.3,658.9 L531.1,666.5 L543.9,664.8 L547.3,674.1 L558.3,672.4 L562.5,684.3 L549.0,687.7 L542.2,689.4 L527.7,687.7 L524.3,669.0 L519.2,669.0Z"/>
<path class="m" d="M530.3,658.9 L531.1,666.5 L524.3,669.0"/>
<path class="m" d="M536.2,667.4 L539.6,685.2"/>
<path class="m" d="M527.7,669.0 L529.4,680.9"/>
<path class="m" d="M529.4,669.9 L531.1,680.1"/>
<path class="m" d="M547.3,674.1 L549.8,687.7"/>
<path class="m" d="M527.7,685.2 L542.2,684.3 L543.0,689.4"/>
<path class="m" d="M532.0,633.4 L532.8,640.2"/>
<path class="m" d="M559.5,599.4 L571.5,598.2 L572.7,607.8 L561.9,610.2Z"/>
<path class="m" d="M572.7,600.6 L587.1,598.2"/>
<path class="m" d="M554.7,615.1 L559.5,610.2 L563.1,616.3"/>
<path class="m" d="M542.7,630.7 L543.9,657.1"/>
<path class="m" d="M522.7,529.5 L522.7,539.6"/>
<path class="m" d="M469.3,561.0 L469.3,539.6 L577.6,539.6 L577.6,550.0"/>
<text x="464.2" y="220.5" textLength="113.6" lengthAdjust="spacingAndGlyphs" class="lb">90159-50199(4)</text>
<text x="108.2" y="330.2" textLength="64.0" lengthAdjust="spacingAndGlyphs" class="lb">84250A</text>
<text x="495.8" y="526.7" textLength="50.7" lengthAdjust="spacingAndGlyphs" class="lb">84307</text>
<text x="441.2" y="580.5" textLength="64.3" lengthAdjust="spacingAndGlyphs" class="lb">89245B</text>
<text x="550.0" y="568.9" textLength="50.6" lengthAdjust="spacingAndGlyphs" class="lb">84306</text>
<text x="63.6" y="607.9" textLength="50.8" lengthAdjust="spacingAndGlyphs" class="lb">84650</text>
<text x="220.4" y="595.2" textLength="50.8" lengthAdjust="spacingAndGlyphs" class="lb">84140</text>
<text x="633.5" y="1004.8" textLength="54.5" lengthAdjust="spacingAndGlyphs" class="cd">84F770B</text>
</svg>
</body></html>
